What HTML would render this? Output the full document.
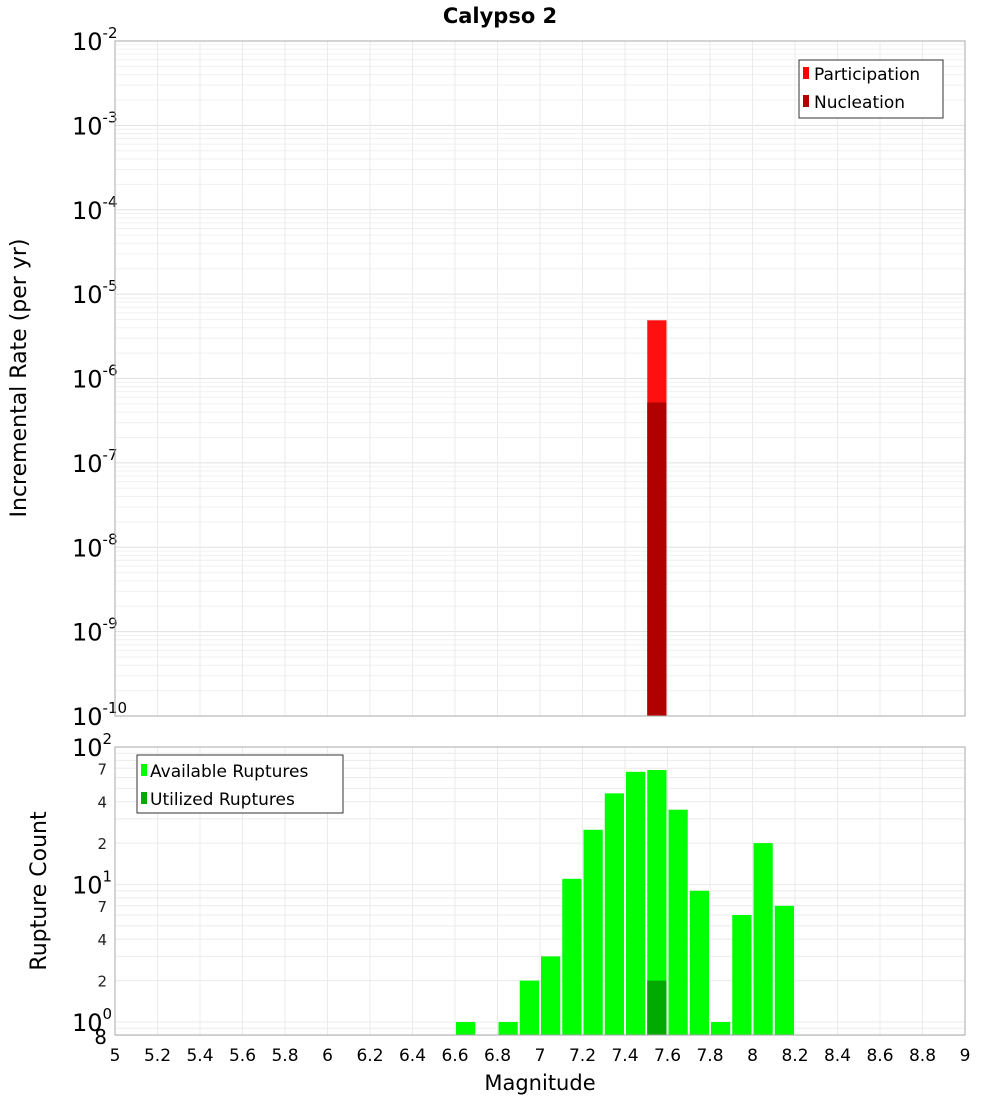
<!DOCTYPE html>
<html><head><meta charset="utf-8"><style>body{margin:0;background:#fff}svg{display:block;font-family:"DejaVu Sans","Liberation Sans",sans-serif}</style></head>
<body>
<svg id="c" width="1000" height="1100" xmlns="http://www.w3.org/2000/svg">
<text x="500" y="23" text-anchor="middle" font-size="21" font-weight="bold">Calypso 2</text>
<text transform="translate(26,378) rotate(-90)" text-anchor="middle" font-size="22">Incremental Rate (per yr)</text>
<text transform="translate(46,891) rotate(-90)" text-anchor="middle" font-size="22">Rupture Count</text>
<text x="540" y="1090" text-anchor="middle" font-size="21">Magnitude</text>
<g id="gtop"></g><g id="gbot"></g><g id="xt"></g>
<g>
<rect x="799" y="60" width="144" height="58" fill="#fff" stroke="#333"/>
<rect x="803" y="67" width="6" height="12" fill="#ff0000"/><text x="814" y="80" font-size="17">Participation</text>
<rect x="803" y="95" width="6" height="12" fill="#b30000"/><text x="814" y="108" font-size="17">Nucleation</text>
</g>
<g>
<rect x="137" y="755" width="206" height="58" fill="#fff" stroke="#333"/>
<rect x="141" y="764" width="6" height="12" fill="#00ff00"/><text x="150" y="777" font-size="17">Available Ruptures</text>
<rect x="141" y="792" width="6" height="12" fill="#00aa00"/><text x="150" y="805" font-size="17">Utilized Ruptures</text>
</g>
</svg>
<script>
const partMags=[7.55], partVals=[4.9e-6];
const nuclMags=[7.55], nuclVals=[5.2e-7];
const availMags=[6.65,6.85,6.95,7.05,7.15,7.25,7.35,7.45,7.55,7.65,7.75,7.85,7.95,8.05,8.15];
const availVals=[1,1,2,3,11,25,46,66,68,35,9,1,6,20,7];
const utilMags=[7.55], utilVals=[2];
const xTicks=[5,5.2,5.4,5.6,5.8,6,6.2,6.4,6.6,6.8,7,7.2,7.4,7.6,7.8,8,8.2,8.4,8.6,8.8,9];
const NS='http://www.w3.org/2000/svg';
const L=115,R=965;
const X=v=>L+(v-5)/4*(R-L);
const T0=41,T1=716,Y1=v=>T1-(Math.log10(v)+10)/8*(T1-T0);
const B0=747,Bd=137.5,Y2=v=>B0+(2-Math.log10(v))*Bd;const B1=1035;
function mk(p,t,a){const e=document.createElementNS(NS,t);for(const k in a)e.setAttribute(k,a[k]);p.appendChild(e);return e;}
const gTop=document.getElementById('gtop'),gBot=document.getElementById('gbot'),xt=document.getElementById('xt');
for(let d=-10;d<-2;d++)for(let m=1;m<10;m++){const y=Y1(m*Math.pow(10,d));mk(gTop,'line',{x1:L,x2:R,y1:y,y2:y,stroke:m==1?'#e0e0e0':'#f0f0f0'});}
for(let d=-1;d<2;d++)for(let m=1;m<10;m++){const v=m*Math.pow(10,d);if(v<0.8)continue;const y=Y2(v);mk(gBot,'line',{x1:L,x2:R,y1:y,y2:y,stroke:'#ebebeb'});}
xTicks.forEach(t=>{const x=X(t);mk(gTop,'line',{x1:x,x2:x,y1:T0,y2:T1,stroke:'#ebebeb'});mk(gBot,'line',{x1:x,x2:x,y1:B0,y2:B1,stroke:'#ebebeb'});
const e=mk(xt,'text',{x:x,y:1061,'text-anchor':'middle','font-size':17});e.textContent=t;

});
for(let d=-10;d<=-2;d++){const y=Y1(Math.pow(10,d));const e=mk(gTop,'text',{x:72,y:y+9,'font-size':24});e.innerHTML='10<tspan dy="-12" font-size="15">'+d+'</tspan>';

}
[[1,'0'],[10,'1'],[100,'2']].forEach(([v,s])=>{const e=mk(gBot,'text',{x:72,y:Y2(v)+9,'font-size':24});e.innerHTML='10<tspan dy="-12" font-size="15">'+s+'</tspan>';

});
[2,4,7,20,40,70].forEach(v=>{const e=mk(gBot,'text',{x:107,y:Y2(v)+6,'font-size':15,'text-anchor':'end',fill:'#222'});e.textContent=String(v)[0];

});
{const e=mk(gBot,'text',{x:107,y:B1+9,'font-size':20,'text-anchor':'end'});e.textContent='8';}
function bar(g,m,y,yb,fill,name,gap){const r=mk(g,'rect',{x:X(m-0.05)+gap,width:X(m+0.05)-X(m-0.05)-2*gap,y:y,height:yb-y,fill:fill});

}
partMags.forEach((m,i)=>bar(gTop,m,Y1(partVals[i]),T1,'#ff1010','participation-bar',1));
nuclMags.forEach((m,i)=>bar(gTop,m,Y1(nuclVals[i]),T1,'#b00000','nucleation-bar',1));
availMags.forEach((m,i)=>bar(gBot,m,Y2(availVals[i]),B1,'#00ff00','available-bar',1));
utilMags.forEach((m,i)=>bar(gBot,m,Y2(utilVals[i]),B1,'#00aa00','utilized-bar',1));
mk(gTop,'rect',{x:L,y:T0,width:R-L,height:T1-T0,fill:'none',stroke:'#aaa'});
mk(gBot,'rect',{x:L,y:B0,width:R-L,height:B1-B0,fill:'none',stroke:'#aaa'});


</script>
</body></html>
